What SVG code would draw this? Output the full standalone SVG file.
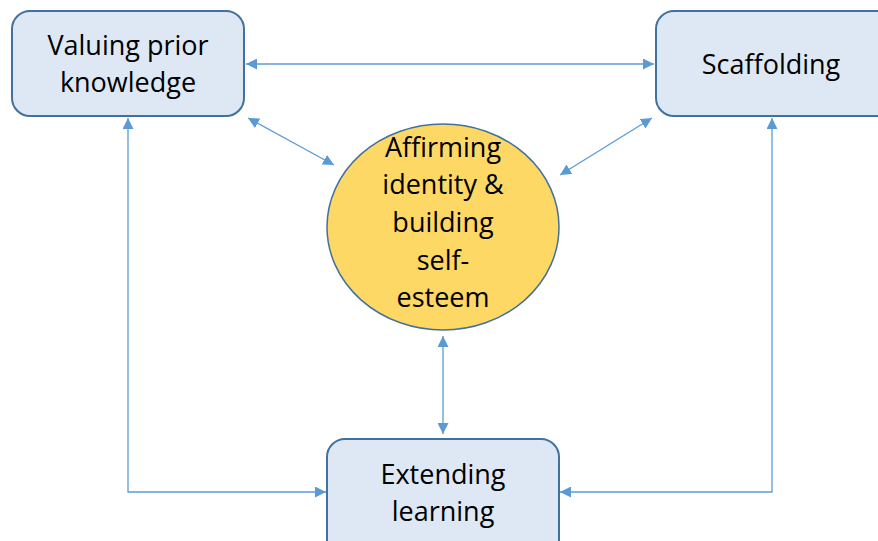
<svg xmlns="http://www.w3.org/2000/svg" width="878" height="541" viewBox="0 0 878 541">
<style>
.box{fill:#dee8f5;stroke:#41719c;stroke-width:2}
.circ{fill:#fdd865;stroke:#41719c;stroke-width:1.5}
.t{font-family:"Open Sans","Liberation Sans",sans-serif;font-size:27px;fill:#000;text-anchor:middle}
.c{fill:none;stroke:#5b9bd5;stroke-width:1.3}
</style>
<defs>
<marker id="a" viewBox="0 0 10 10" refX="10" refY="5" markerWidth="11" markerHeight="11" markerUnits="userSpaceOnUse" orient="auto-start-reverse">
<path d="M0,0 L10,5 L0,10 z" fill="#5b9bd5"/>
</marker>
</defs>
<rect width="878" height="541" fill="#fff"/>
<g id="connectors">
<line class="c" x1="246" y1="64" x2="654" y2="64" marker-start="url(#a)" marker-end="url(#a)"/>
<line class="c" x1="248" y1="118" x2="334" y2="165" marker-start="url(#a)" marker-end="url(#a)"/>
<line class="c" x1="652" y1="118" x2="560" y2="175" marker-start="url(#a)" marker-end="url(#a)"/>
<line class="c" x1="443" y1="336" x2="443" y2="434" marker-start="url(#a)" marker-end="url(#a)"/>
<polyline class="c" points="128,118 128,492 326,492" marker-start="url(#a)" marker-end="url(#a)"/>
<polyline class="c" points="772,118 772,492 560,492" marker-start="url(#a)" marker-end="url(#a)"/>
</g>
<g id="valuing">
<rect class="box" x="12" y="11" width="232" height="105" rx="18"/>
<text class="t" x="128" y="55">Valuing prior</text>
<text class="t" x="128" y="92">knowledge</text>
</g>
<g id="scaffolding">
<rect class="box" x="656" y="11" width="240" height="105" rx="18"/>
<text class="t" x="771" y="74">Scaffolding</text>
</g>
<g id="affirming">
<ellipse class="circ" cx="443" cy="227" rx="116" ry="103"/>
<text class="t" x="443" y="157">Affirming</text>
<text class="t" x="443" y="194">identity &amp;</text>
<text class="t" x="443" y="232">building</text>
<text class="t" x="443" y="270">self-</text>
<text class="t" x="443" y="307">esteem</text>
</g>
<g id="extending">
<rect class="box" x="327" y="439" width="232" height="120" rx="18"/>
<text class="t" x="443" y="484">Extending</text>
<text class="t" x="443" y="521">learning</text>
</g>
</svg>
